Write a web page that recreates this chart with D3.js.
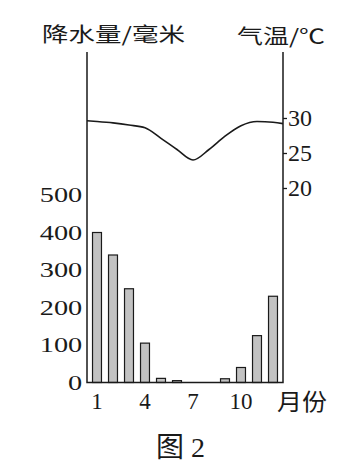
<html>
<head>
<meta charset="utf-8">
<script src="https://d3js.org/d3.v7.min.js"></script>
<style>
body {margin:0; background:#fff;}
.cjk {font-family:"Noto Sans CJK SC", sans-serif; fill:#1a1a1a;}
.num {font-family:"Liberation Serif", serif; fill:#1a1a1a;}
</style>
</head>
<body>
<svg width=354 height=472></svg>
<script>
// monthly data
var months = [1,2,3,4,5,6,7,8,9,10,11,12];
var rain = [400,340,250,105,11,5,0,0,10,40,125,230];
var temp = [29.5,29.3,29.0,28.6,27.1,25.5,24.0,25.5,27.4,28.9,29.5,29.4];
// temperature where the curve meets the left / right axis
var tempEdges = [29.6,29.2];
var rainTicks = [0,100,200,300,400,500];
var tempTicks = [20,25,30];
var monthTicks = [1,4,7,10];

var plotLeft = 87, plotRight = 283, plotTop = 52, plotBottom = 382.5;
var ink = "#1a1a1a";

var svg = d3.select("svg");

var x = d3.scaleBand().domain(months).range([plotLeft+2, plotRight-2])
  .paddingInner(0.44).paddingOuter(0.22);
var yRain = d3.scaleLinear().domain([0,500]).range([plotBottom,195]);
var yTemp = d3.scaleLinear().domain([20,30]).range([188,118]);

//bars
svg.append("g").selectAll("rect")
.data(months)
.enter()
.append("rect")
.attr("x",function(d) {return x(d);})
.attr("width",x.bandwidth())
.attr("y",function(d,i) {return yRain(rain[i]);})
.attr("height",function(d,i) {return plotBottom-yRain(rain[i]);})
.style("fill","#c2c2c2")
.style("stroke",ink)
.style("stroke-width",1.2);

//axis frame
svg.append("path")
.attr("d","M"+plotLeft+","+plotTop+"V"+plotBottom+"H"+plotRight+"V"+plotTop)
.style("fill","none").style("stroke",ink).style("stroke-width",1.5);

//temperature curve
var pts = [[plotLeft,tempEdges[0]]]
  .concat(months.map(function(m,i) {return [x(m)+x.bandwidth()/2,temp[i]];}))
  .concat([[plotRight,tempEdges[1]]]);
svg.append("path")
.datum(pts)
.attr("d",d3.line().x(function(d) {return d[0];}).y(function(d) {return yTemp(d[1]);}).curve(d3.curveMonotoneX))
.style("fill","none").style("stroke",ink).style("stroke-width",1.6);

//left axis labels
var ga = svg.append("g")
.attr("transform","translate("+plotLeft+",0)")
.call(d3.axisLeft(yRain).tickValues(rainTicks).tickSize(0).tickPadding(3.5));
ga.select(".domain").remove();
ga.selectAll("text").attr("class","num").style("font-size","21px")
.attr("transform","scale(1.35,1)");

//right axis
var gb = svg.append("g")
.attr("transform","translate("+plotRight+",0)")
.call(d3.axisRight(yTemp).tickValues(tempTicks).tickSize(4).tickPadding(1));
gb.select(".domain").remove();
gb.selectAll("line").style("stroke",ink).style("stroke-width",1.3);
gb.selectAll("text").attr("class","num").style("font-size","24px");

//month labels
var gc = svg.append("g")
.attr("transform","translate(0,"+plotBottom+")")
.call(d3.axisBottom(x).tickValues(monthTicks).tickSize(0).tickPadding(10));
gc.select(".domain").remove();
gc.selectAll("text").attr("class","num").style("font-size","23px");

//titles
svg.append("text").attr("class","cjk")
.attr("x",42).attr("y",41.5).style("font-size","20px")
.attr("textLength",143).attr("lengthAdjust","spacingAndGlyphs")
.text("降水量/毫米");

svg.append("text").attr("class","cjk")
.attr("x",237).attr("y",43.5).style("font-size","20px")
.attr("textLength",88).attr("lengthAdjust","spacingAndGlyphs")
.text("气温/℃");

svg.append("text").attr("class","cjk")
.attr("x",277).attr("y",410).style("font-size","23px")
.attr("textLength",50).attr("lengthAdjust","spacingAndGlyphs")
.text("月份");

svg.append("text").attr("class","cjk")
.attr("x",156).attr("y",457).style("font-size","28px")
.text("图");
svg.append("text").attr("class","num")
.attr("x",191).attr("y",457).style("font-size","28px")
.text("2");
</script>
</body>
</html>
